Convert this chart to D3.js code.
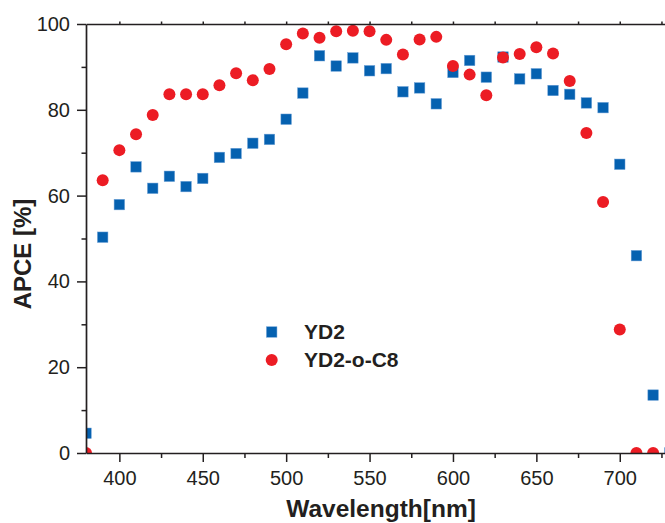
<!DOCTYPE html>
<html>
<head>
<meta charset="utf-8">
<script src="https://cdn.jsdelivr.net/npm/d3@7"></script>
<style>
  html, body { margin: 0; padding: 0; background: #fff; }
  svg { display: block; }
  text { font-family: "Liberation Sans", Arial, sans-serif; fill: #231f20; }
</style>
</head>
<body>
<svg id="chart" width="665" height="523"></svg>
<script>
// ---- data ----
const wavelengthsYD2 = [380,390,400,410,420,430,440,450,460,470,480,490,500,510,520,530,540,550,560,570,580,590,600,610,620,630,640,650,660,670,680,690,700,710,720,730];
const apceYD2 = [4.6,50.3,57.9,66.7,61.7,64.5,62.1,64.0,68.9,69.8,72.2,73.1,77.8,83.9,92.6,90.2,92.1,89.1,89.6,84.2,85.1,81.4,88.7,91.5,87.6,92.3,87.2,88.4,84.5,83.6,81.6,80.5,67.3,46.0,13.5,0];
const wavelengthsC8 = [380,390,400,410,420,430,440,450,460,470,480,490,500,510,520,530,540,550,560,570,580,590,600,610,620,630,640,650,660,670,680,690,700,710,720];
const apceC8 = [0,63.6,70.6,74.3,78.8,83.6,83.6,83.6,85.7,88.5,86.9,89.5,95.3,97.8,96.8,98.3,98.4,98.3,96.3,92.9,96.4,97.0,90.2,88.2,83.4,92.2,93.0,94.6,93.1,86.7,74.6,58.5,28.8,0,0];
const xMajorTicks = [400,450,500,550,600,650,700];
const xMinorTicks = [425,475,525,575,625,675,725];
const yMajorTicks = [0,20,40,60,80,100];
const yMinorTicks = [10,30,50,70,90];
const seriesNames = ["YD2", "YD2-o-C8"];
const xTitle = "Wavelength[nm]";
const yTitle = "APCE [%]";

// ---- layout ----
const svg = d3.select("#chart");
const mLeft = 86, mTop = 24, mBottom = 453;
const x = d3.scaleLinear().domain([380, 730]).range([mLeft, mLeft + 350 * 1.668]);
const y = d3.scaleLinear().domain([0, 100]).range([mBottom, mTop]);
const axisColor = "#231f20";
const blue = "#0561b0", red = "#ec1c24";

svg.append("defs").append("clipPath").attr("id", "plotclip")
  .append("rect").attr("x", mLeft).attr("y", mTop - 10)
  .attr("width", 700).attr("height", mBottom - mTop + 10);

// markers
const plot = svg.append("g").attr("clip-path", "url(#plotclip)");
const sq = 10.5;
plot.selectAll("rect.yd2").data(wavelengthsYD2.map((w, i) => [w, apceYD2[i]]))
  .join("rect").attr("class", "yd2")
  .attr("x", d => x(d[0]) - sq / 2).attr("y", d => y(d[1]) - sq / 2)
  .attr("width", sq).attr("height", sq)
  .attr("fill", blue).attr("stroke", "#6b9fd6").attr("stroke-width", 0.5);
plot.selectAll("circle.c8").data(wavelengthsC8.map((w, i) => [w, apceC8[i]]))
  .join("circle").attr("class", "c8")
  .attr("cx", d => x(d[0])).attr("cy", d => y(d[1])).attr("r", 6)
  .attr("fill", red);

// axes
function styleAxis(g) {
  g.select(".domain").attr("stroke", axisColor).attr("stroke-width", 1.7);
  g.selectAll(".tick line").attr("stroke", axisColor).attr("stroke-width", 1.5);
  g.selectAll(".tick text").style("font-size", "20px").attr("fill", axisColor);
}
const gx = svg.append("g").attr("transform", `translate(0,${mBottom})`)
  .call(d3.axisBottom(x).tickValues(xMajorTicks).tickSize(9).tickPadding(8.7).tickSizeOuter(0).tickFormat(d3.format("d")));
styleAxis(gx);
const gxm = svg.append("g").attr("transform", `translate(0,${mBottom})`)
  .call(d3.axisBottom(x).tickValues(xMinorTicks).tickSize(5).tickSizeOuter(0).tickFormat(""));
styleAxis(gxm); gxm.select(".domain").remove();

const gt = svg.append("g").attr("transform", `translate(0,${mTop})`)
  .call(d3.axisTop(x).tickValues(xMajorTicks.concat(xMinorTicks)).tickSize(2.5).tickSizeOuter(0).tickFormat(""));
styleAxis(gt);

const gy = svg.append("g").attr("transform", `translate(${mLeft},0)`)
  .call(d3.axisLeft(y).tickValues(yMajorTicks).tickSize(9).tickPadding(7).tickSizeOuter(0));
styleAxis(gy);
const gym = svg.append("g").attr("transform", `translate(${mLeft},0)`)
  .call(d3.axisLeft(y).tickValues(yMinorTicks).tickSize(4.5).tickSizeOuter(0).tickFormat(""));
styleAxis(gym); gym.select(".domain").remove();

// titles
svg.append("text").attr("x", 381).attr("y", 517).attr("text-anchor", "middle")
  .style("font-size", "24.5px").style("font-weight", "bold").text(xTitle);
svg.append("text").attr("transform", "translate(31,254) rotate(-90)").attr("text-anchor", "middle")
  .style("font-size", "24px").style("font-weight", "bold").text(yTitle);

// legend
const lg = svg.append("g");
lg.append("rect").attr("x", 271.7 - sq / 2).attr("y", 332 - sq / 2).attr("width", sq).attr("height", sq)
  .attr("fill", blue).attr("stroke", "#6b9fd6").attr("stroke-width", 0.5);
lg.append("circle").attr("cx", 271.7).attr("cy", 360).attr("r", 6).attr("fill", red);
lg.append("text").attr("x", 304).attr("y", 339).style("font-size", "21px").style("font-weight", "bold").text(seriesNames[0]);
lg.append("text").attr("x", 304).attr("y", 367).style("font-size", "21px").style("font-weight", "bold").text(seriesNames[1]);
</script>
</body>
</html>
